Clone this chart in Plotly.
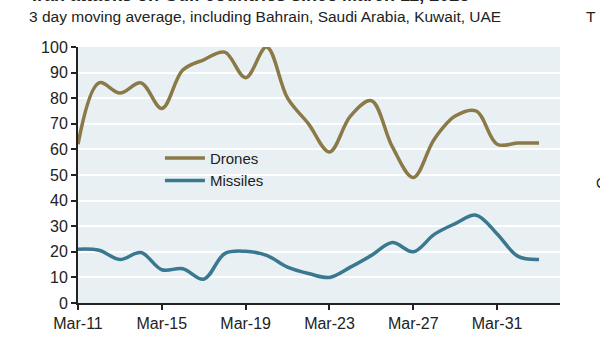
import plotly.graph_objects as go
import pandas as pd

dates = pd.date_range("2026-03-11", "2026-04-02", freq="D")
drones = [62, 86, 82, 86, 76, 91, 95, 98, 88, 100, 80, 70, 59, 73, 79, 61, 49, 64, 73, 75, 62, 62.5, 62.5]
missiles = [21, 20.6, 17, 19.7, 13, 13.4, 9.3, 19.3, 20.2, 18.6, 14, 11.5, 10, 14, 18.6, 23.6, 20, 26.8, 31, 34.3, 27, 18.2, 17]
tick_dates = ["2026-03-11", "2026-03-15", "2026-03-19", "2026-03-23", "2026-03-27", "2026-03-31"]
tick_labels = ["Mar-11", "Mar-15", "Mar-19", "Mar-23", "Mar-27", "Mar-31"]

title = "Iran attacks on Gulf countries since March 11, 2026"
subtitle = "3 day moving average, including Bahrain, Saudi Arabia, Kuwait, UAE"

fig = go.Figure()
fig.add_trace(go.Scatter(x=dates, y=drones, name="Drones", mode="lines",
                         line=dict(color="#8b7947", width=3.5, shape="spline", smoothing=1)))
fig.add_trace(go.Scatter(x=dates, y=missiles, name="Missiles", mode="lines",
                         line=dict(color="#3a7890", width=3.5, shape="spline", smoothing=1)))

font_family = "Liberation Sans, Arial, sans-serif"
fig.update_layout(
    width=600, height=337,
    margin=dict(l=78, r=40, t=47, b=34),
    paper_bgcolor="white",
    plot_bgcolor="#e8f0f4",
    font=dict(family=font_family, size=16, color="#222222"),
    showlegend=True,
    legend=dict(x=0.17, y=0.63, xanchor="left", yanchor="top",
                bgcolor="rgba(0,0,0,0)", font=dict(size=15, color="#222222"),
                tracegroupgap=0, itemwidth=40),
)
fig.update_xaxes(
    range=["2026-03-11", "2026-04-03"],
    tickvals=tick_dates, ticktext=tick_labels,
    showgrid=False, showline=True, linecolor="#222222", linewidth=2,
    ticks="outside", ticklen=5, tickcolor="#222222", tickwidth=1.5,
    tickfont=dict(size=16, color="#222222"), automargin=False,
)
fig.update_yaxes(
    range=[0, 100], dtick=10,
    showgrid=True, gridcolor="white", gridwidth=2,
    showline=True, linecolor="#222222", linewidth=2,
    ticks="outside", ticklen=5, tickcolor="#222222", tickwidth=1.5,
    tickfont=dict(size=16, color="#222222"), zeroline=False, automargin=False,
)
fig.add_annotation(text="<b>" + title + "</b>", xref="paper", yref="paper",
                   x=-0.1, y=1.158, xanchor="left", yanchor="bottom", showarrow=False,
                   font=dict(size=18, color="#222222"))
fig.add_annotation(text=subtitle, xref="paper", yref="paper",
                   x=-0.105, y=1.12, xanchor="left", yanchor="middle", showarrow=False,
                   font=dict(size=15.5, color="#222222"))
fig.add_annotation(text="T", xref="paper", yref="paper",
                   x=1.0498, y=1.12, xanchor="left", yanchor="middle", showarrow=False,
                   font=dict(size=15.5, color="#222222"))
fig.add_annotation(text="C", xref="paper", yref="paper",
                   x=1.07, y=0.47, xanchor="left", yanchor="middle", showarrow=False,
                   font=dict(size=14, color="#222222"))

fig.write_html("out.html")
